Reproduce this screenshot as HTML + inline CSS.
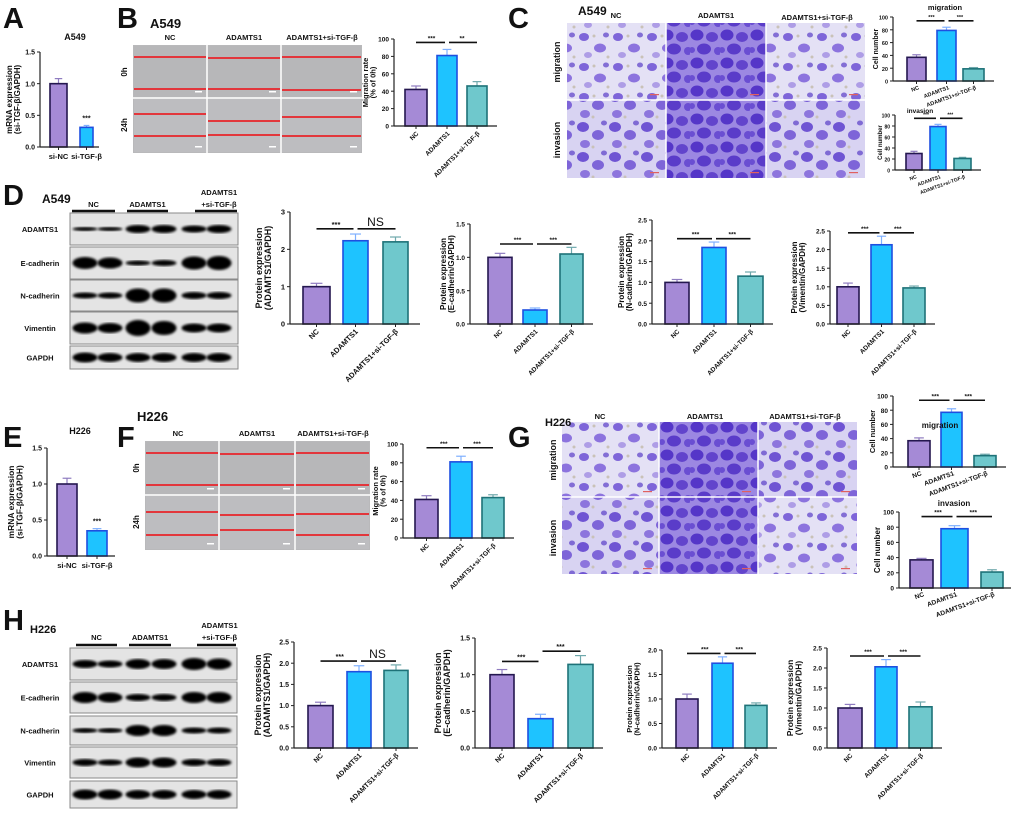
<!DOCTYPE html>
<html><head><meta charset="utf-8">
<style>
html,body{margin:0;padding:0;background:#fff;}
svg{display:block;font-family:"Liberation Sans",Arial,sans-serif;}
</style></head>
<body>
<svg id="fig" width="1020" height="821" viewBox="0 0 1020 821" xmlns="http://www.w3.org/2000/svg">
<defs>
<filter id="blur1"><feGaussianBlur stdDeviation="1.2"/></filter>
<pattern id="cellsLight" width="34" height="30" patternUnits="userSpaceOnUse">
<rect width="34" height="30" fill="#e4e1f5"/>
<ellipse cx="6" cy="7" rx="5" ry="4" fill="#6c4fd4" opacity="0.85"/>
<ellipse cx="22" cy="18" rx="6" ry="4.5" fill="#7658d8" opacity="0.8"/>
<ellipse cx="28" cy="5" rx="3" ry="2.5" fill="#5a3ec8" opacity="0.7"/>
<ellipse cx="10" cy="25" rx="4" ry="3" fill="#8a70dc" opacity="0.6"/>
<circle cx="16" cy="6" r="1.5" fill="#c9c2b8"/>
<circle cx="30" cy="27" r="1.5" fill="#c9c2b8"/>
</pattern>
<pattern id="cellsDense" width="30" height="28" patternUnits="userSpaceOnUse">
<rect width="30" height="28" fill="#9c88e2"/>
<ellipse cx="7" cy="7" rx="6.5" ry="5.5" fill="#5536c8"/>
<ellipse cx="22" cy="9" rx="6" ry="5" fill="#6244cc"/>
<ellipse cx="14" cy="21" rx="7" ry="5.5" fill="#5a3cc9"/>
<ellipse cx="28" cy="23" rx="4" ry="4" fill="#6a4ed2"/>
<ellipse cx="2" cy="22" rx="3" ry="3" fill="#6a4ed2"/>
</pattern>
<pattern id="cellsMid" width="32" height="30" patternUnits="userSpaceOnUse">
<rect width="32" height="30" fill="#d8d3f2"/>
<ellipse cx="7" cy="7" rx="6" ry="5" fill="#6446d0" opacity="0.9"/>
<ellipse cx="22" cy="15" rx="6" ry="5" fill="#6e52d4" opacity="0.85"/>
<ellipse cx="9" cy="24" rx="5" ry="4" fill="#7a5ed8" opacity="0.8"/>
<ellipse cx="28" cy="3" rx="3" ry="2.5" fill="#5a3ec8" opacity="0.7"/>
<circle cx="17" cy="27" r="1.5" fill="#c9c2b8"/>
</pattern>
</defs>
<g id="static"></g>
<g id="charts"></g>
<g id="overlay"></g>
</svg>
<script>
// ---------------- DATA ----------------
const catsSi = ["si-NC","si-TGF-β"];
const cats3 = ["NC","ADAMTS1","ADAMTS1+si-TGF-β"];

const valsA = [1.0, 0.31];   const errA = [0.08, 0.03];
const valsB = [42, 81, 46];  const errB = [4, 7, 5];
const valsCm = [37, 79, 19]; const errCm = [4, 5, 2];
const valsCi = [30, 79, 21]; const errCi = [4, 4, 2];
const valsD1 = [1.0, 2.23, 2.2];  const errD1 = [0.09, 0.18, 0.13];
const valsD2 = [1.0, 0.21, 1.05]; const errD2 = [0.06, 0.03, 0.1];
const valsD3 = [1.0, 1.84, 1.15]; const errD3 = [0.07, 0.13, 0.1];
const valsD4 = [1.0, 2.13, 0.97]; const errD4 = [0.1, 0.23, 0.05];
const valsE = [1.0, 0.35];   const errE = [0.08, 0.03];
const valsF = [41, 81, 43];  const errF = [4, 6, 3];
const valsGm = [37, 77, 16]; const errGm = [4, 5, 2];
const valsGi = [37, 78, 21]; const errGi = [2, 4, 3];
const valsH1 = [1.0, 1.8, 1.83]; const errH1 = [0.08, 0.14, 0.13];
const valsH2 = [1.0, 0.4, 1.14]; const errH2 = [0.07, 0.06, 0.12];
const valsH3 = [1.0, 1.73, 0.87]; const errH3 = [0.1, 0.13, 0.05];
const valsH4 = [1.0, 2.03, 1.03]; const errH4 = [0.09, 0.18, 0.12];

const ticks15 = [0, 0.5, 1.0, 1.5];
const ticks15Lab = ["0.0","0.5","1.0","1.5"];
const ticks100 = [0, 20, 40, 60, 80, 100];
const ticks100Lab = ["0","20","40","60","80","100"];
const ticks3 = [0, 1, 2, 3];
const ticks3Lab = ["0","1","2","3"];
const ticks25 = [0, 0.5, 1.0, 1.5, 2.0, 2.5];
const ticks25Lab = ["0.0","0.5","1.0","1.5","2.0","2.5"];
const ticks20 = [0, 0.5, 1.0, 1.5, 2.0];
const ticks20Lab = ["0.0","0.5","1.0","1.5","2.0"];

const sigStar3 = ["***","***"];
const sigB = ["***","**"];
const sigNS = ["***","NS"];
const sigLevB = [96, 96];
const sigLevC = [94, 94];
const sigLevD1 = [2.55, 2.55];
const sigLevD2 = [1.2, 1.2];
const sigLevD3 = [2.05, 2.05];
const sigLevD4 = [2.45, 2.45];
const sigLevF = [96, 96];
const sigLevH1 = [2.05, 2.05];
const sigLevH2 = [1.18, 1.32];
const sigLevH3 = [1.93, 1.93];
const sigLevH4 = [2.3, 2.3];

// ---------------- HELPERS ----------------
const NS = "http://www.w3.org/2000/svg";
const staticG = document.getElementById('static');
const chartsG = document.getElementById('charts');
const overlayG = document.getElementById('overlay');
function mk(tag, attrs, parent){
  const e = document.createElementNS(NS, tag);
  for (const k in attrs) e.setAttribute(k, attrs[k]);
  (parent||staticG).appendChild(e);
  return e;
}
function txt(x,y,s,size,parent,extra){
  const a = Object.assign({x:x,y:y,'font-size':size,'font-weight':'bold','text-anchor':'middle',fill:'#111'}, extra||{});
  const t = mk('text', a, parent); t.textContent = s; return t;
}
const fills = ["#a58ad6","#1ec3ff","#6fc8cc"];
const strokes = ["#24174f","#1f4fe0","#1e7278"];
const errCols = ["#8f7cc0","#7fb0ff","#6fa8ac"];

function barChart(c){
  const g = mk('g', {}, chartsG);
  
  
  const ymax = c.ticks[c.ticks.length-1];
  const sy = v => c.y0 - (v / ymax) * (c.y0 - c.ytop);
  const fs = c.fs || 7.5;
  c.values.forEach((v,i)=>{
    const [x0,x1] = c.bx[i];
    const cx = (x0+x1)/2;
    const top = sy(v), etop = sy(v + c.errs[i]);
    const el = mk('line',{x1:cx,x2:cx,y1:top,y2:etop,stroke:errCols[i],'stroke-width':1.2},g);
    
    
    const cap = mk('line',{x1:cx-(x1-x0)*0.22,x2:cx+(x1-x0)*0.22,y1:etop,y2:etop,stroke:errCols[i],'stroke-width':1.2},g);
    
    
    const r = mk('rect',{x:x0,y:top,width:x1-x0,height:c.y0-top,fill:fills[i],stroke:strokes[i],'stroke-width':1.6},g);
    
    
  });
  const xEnd = c.bx[c.bx.length-1][1] + (c.xpad||10);
  mk('line',{x1:c.ax,x2:c.ax,y1:c.ytop,y2:c.y0,stroke:'#222','stroke-width':1.2},g);
  mk('line',{x1:c.ax,x2:xEnd,y1:c.y0,y2:c.y0,stroke:'#222','stroke-width':1.2},g);
  c.ticks.forEach((t,i)=>{
    const y = sy(t);
    mk('line',{x1:c.ax-3,x2:c.ax,y1:y,y2:y,stroke:'#222','stroke-width':1},g);
    const tl = txt(c.ax-5,y+2.6,c.tickLab[i],fs,g,{'text-anchor':'end'});
    
    
  });
  c.bx.forEach((b,i)=>{
    const cx=(b[0]+b[1])/2;
    mk('line',{x1:cx,x2:cx,y1:c.y0,y2:c.y0+3,stroke:'#222','stroke-width':1},g);
    let t;
    if (c.rot){
      t = txt(cx+3,c.y0+8,c.cats[i],fs,g,{'text-anchor':'end',transform:`rotate(-${c.rot} ${cx+3} ${c.y0+8})`});
    } else {
      t = txt(cx,c.y0+12,c.cats[i],fs+0.5,g);
    }
    
    
  });
  if (c.ylab){
    const lx = c.lx, ly = (c.ytop+c.y0)/2;
    c.ylab.forEach((s,k)=>{
      const t = txt(lx + k*(c.lfs||9), ly, s, c.lfs||8.5, g, {transform:`rotate(-90 ${lx+k*(c.lfs||9)} ${ly})`});
      
      
    });
  }
  if (c.title){
    const t = txt(c.tx, c.ty, c.title, c.tfs||9, g);
    
    
  }
  if (c.sig){
    const centers = c.bx.map(b=>(b[0]+b[1])/2);
    c.sig.forEach((s,k)=>{
      const a = centers[k], bb = centers[k+1];
      const y = sy(c.sigLev[k]);
      const ln = mk('line',{x1:a+(k?2:0),x2:bb-(k?0:2),y1:y,y2:y,stroke:'#111','stroke-width':1.6},g);
      
      
      const t = txt((a+bb)/2, y-(s==='NS'?3:2), s, s==='NS'? 12: fs, g, s==='NS'?{'font-weight':'normal'}:{});
      
      
    });
  }
  if (c.star){
    const cx=(c.bx[1][0]+c.bx[1][1])/2;
    const t = txt(cx, sy(c.values[1]+c.errs[1])-5, c.star, fs, g);
    
    
  }
}

// ---------------- STATIC ----------------
function panelLetter(x,y,s){const t=txt(x,y,s,29,overlayG,{'text-anchor':'start'});}
function lbl(x,y,s,size,anchor,name,parent){const t=txt(x,y,s,size,parent||staticG,{'text-anchor':anchor||'middle'});return t;}
function vlbl(x,y,s,size,name){const t=txt(x,y,s,size,staticG,{transform:`rotate(-90 ${x} ${y})`});}

function scratch(x0,y0,colsX,rowY,x1,y1,redLines,name){
  const g=mk('g',{});
  
  
  mk('rect',{x:x0,y:y0,width:x1-x0,height:y1-y0,fill:'#b9b9bb'},g);
  const xs=[x0,...colsX,x1], ys=[y0,rowY,y1];
  for(let r=0;r<2;r++)for(let c=0;c<3;c++){
    mk('rect',{x:xs[c]+1,y:ys[r]+1,width:xs[c+1]-xs[c]-2,height:ys[r+1]-ys[r]-2,fill:(r?'#bdbdc0':'#b7b7b9')},g);
    const rl = redLines[r*3+c];
    rl.forEach(yy=>mk('line',{x1:xs[c]+1,x2:xs[c+1]-1,y1:yy,y2:yy,stroke:'#e8242a','stroke-width':1.8},g));
    mk('rect',{x:xs[c+1]-12,y:ys[r+1]-7,width:7,height:1.5,fill:'#fff'},g);
  }
  colsX.forEach(cx=>mk('line',{x1:cx,x2:cx,y1:y0,y2:y1,stroke:'#fff','stroke-width':1.5},g));
  mk('line',{x1:x0,x2:x1,y1:rowY,y2:rowY,stroke:'#fff','stroke-width':1.5},g);
}
scratch(133,45,[207,281],98,362,153,[[57,89],[58,89],[57,90],[114,136],[121,135],[117,136]],'scratch-images-a549');
lbl(170,40,'NC',7.5,'middle','column-label'); lbl(244,40,'ADAMTS1',7.5,'middle','column-label'); lbl(322,40,'ADAMTS1+si-TGF-β',7.5,'middle','column-label');
vlbl(127,72,'0h',8); vlbl(127,125,'24h',8);
scratch(145,441,[219,295],495,370,550,[[453,485],[454,485],[453,485],[512,535],[515,530],[514,535]],'scratch-images-h226');
lbl(178,436,'NC',7.5,'middle','column-label'); lbl(257,436,'ADAMTS1',7.5,'middle','column-label'); lbl(333,436,'ADAMTS1+si-TGF-β',7.5,'middle','column-label');
vlbl(139,468,'0h',8); vlbl(139,522,'24h',8);

function transwell(x0,y0,colsX,rowY,x1,y1,fillsArr,name){
  const g=mk('g',{});
  
  
  const xs=[x0,...colsX,x1], ys=[y0,rowY,y1];
  for(let r=0;r<2;r++)for(let c=0;c<3;c++){
    mk('rect',{x:xs[c],y:ys[r],width:xs[c+1]-xs[c],height:ys[r+1]-ys[r],fill:`url(#${fillsArr[r*3+c]})`},g);
    mk('rect',{x:xs[c+1]-16,y:ys[r+1]-6,width:9,height:1.2,fill:'#e06060'},g);
  }
  colsX.forEach(cx=>mk('line',{x1:cx,x2:cx,y1:y0,y2:y1,stroke:'#fff','stroke-width':1.5},g));
  mk('line',{x1:x0,x2:x1,y1:rowY,y2:rowY,stroke:'#fff','stroke-width':1.5},g);
}
transwell(567,23,[666,766],100,865,178,['cellsLight','cellsDense','cellsLight','cellsMid','cellsDense','cellsMid'],'transwell-images-a549');
lbl(616,18,'NC',7.5,'middle','column-label'); lbl(716,18,'ADAMTS1',7.5,'middle','column-label'); lbl(817,20,'ADAMTS1+si-TGF-β',7.5,'middle','column-label');
vlbl(560,62,'migration',9); vlbl(560,140,'invasion',9);
transwell(562,422,[659,758],497,857,574,['cellsLight','cellsDense','cellsMid','cellsMid','cellsDense','cellsLight'],'transwell-images-h226');
lbl(600,419,'NC',7.5,'middle','column-label'); lbl(705,419,'ADAMTS1',7.5,'middle','column-label'); lbl(805,419,'ADAMTS1+si-TGF-β',7.5,'middle','column-label');
vlbl(556,460,'migration',9); vlbl(556,538,'invasion',9);

const laneX=[85,110,138,164,194,219];
function blot(x0,x1,rows,groups,lineY,labelY,names,bandSpec,name){
  const g=mk('g',{});
  
  
  groups.forEach(gr=>{
    mk('line',{x1:gr[0],x2:gr[1],y1:lineY,y2:lineY,stroke:'#111','stroke-width':2.5},g);
  });
  lbl((groups[0][0]+groups[0][1])/2,labelY,'NC',7.5,'middle','lane-group-label',g);
  lbl((groups[1][0]+groups[1][1])/2,labelY,'ADAMTS1',7.5,'middle','lane-group-label',g);
  lbl((groups[2][0]+groups[2][1])/2+3,labelY-12,'ADAMTS1',7.5,'middle','lane-group-label',g);
  lbl((groups[2][0]+groups[2][1])/2+3,labelY,'+si-TGF-β',7.5,'middle','lane-group-label',g);
  rows.forEach((r,i)=>{
    mk('rect',{x:x0,y:r[0],width:x1-x0,height:r[1]-r[0],fill:'#e4e4e4',stroke:'#8a8a8a','stroke-width':1},g);
    const cy=(r[0]+r[1])/2;
    bandSpec[i].forEach((h,k)=>{
      mk('ellipse',{cx:laneX[k],cy:cy,rx:12.5,ry:h,fill:'#000',filter:'url(#blur1)'},g);
    });
    const t=txt(40,cy+3,names[i],7.5,g);
    
    
  });
}
const protNames=['ADAMTS1','E-cadherin','N-cadherin','Vimentin','GAPDH'];
blot(70,238,[[213,245],[247,279],[280,311],[312,344],[346,369]],[[72,115],[127,168],[195,237]],211,207,protNames,
 [[2,2,4,4,3.5,4],[6,5.5,2.5,3,6.5,7],[3,3,7,7,3.5,3.5],[5.5,5,8,7,4.5,4.5],[5,4.5,4.5,4.5,4.5,4.5]],'western-blot-a549');
blot(70,237,[[648,680],[682,713],[716,745],[747,778],[781,808]],[[76,117],[129,171],[197,236]],645,640,protNames,
 [[4,3.5,5,5,6,5.5],[5.5,5,3.5,3.5,5.5,5.5],[2.5,2.5,5.5,5.5,3,3],[3.5,3,5,5,3.5,3.5],[5,5,4.5,4.5,4.5,4.5]],'western-blot-h226');

// cell-line labels drawn on top
lbl(150,28,'A549',13,'start','cell-line-label',overlayG);
lbl(578,15,'A549',12,'start','cell-line-label',overlayG);
lbl(42,203,'A549',12,'start','cell-line-label',overlayG);
lbl(137,421,'H226',13,'start','cell-line-label',overlayG);
lbl(545,426,'H226',11,'start','cell-line-label',overlayG);
lbl(30,633,'H226',11,'start','cell-line-label',overlayG);
panelLetter(3,28,'A'); panelLetter(117,28,'B'); panelLetter(508,28,'C');
panelLetter(3,205,'D'); panelLetter(3,447,'E'); panelLetter(117,447,'F');
panelLetter(508,447,'G'); panelLetter(3,630,'H');

// ---------------- CHARTS ----------------
barChart({name:'chart-a-mrna',cats:catsSi,values:valsA,errs:errA,ticks:ticks15,tickLab:ticks15Lab,ax:40,y0:147,ytop:52,bx:[[50,67],[80,93]],ylab:['mRNA expression','(si-TGF-β/GAPDH)'],lx:12,lfs:8,title:'A549',tx:75,ty:40,star:'***',xpad:6,fs:7});
barChart({name:'chart-b-migration-rate',cats:cats3,values:valsB,errs:errB,ticks:ticks100,tickLab:ticks100Lab,ax:394,y0:126,ytop:39,bx:[[405,427],[437,457],[467,487]],ylab:['Migration rate','(% of 0h)'],lx:368,lfs:7.5,sig:sigB,sigLev:sigLevB,rot:45,fs:6.5});
barChart({name:'chart-c-migration',cats:cats3,values:valsCm,errs:errCm,ticks:ticks100,tickLab:ticks100Lab,ax:893,y0:81,ytop:17,bx:[[907,926],[937,956],[963,984]],ylab:['Cell number'],lx:878,lfs:7,sig:sigStar3,sigLev:sigLevC,rot:20,fs:5.5,title:'migration',tx:945,ty:10,tfs:7.5});
barChart({name:'chart-c-invasion',cats:cats3,values:valsCi,errs:errCi,ticks:ticks100,tickLab:ticks100Lab,ax:895,y0:170,ytop:115,bx:[[906,922],[930,946],[954,971]],ylab:['Cell number'],lx:882,lfs:6,sig:sigStar3,sigLev:sigLevC,rot:20,fs:5,title:'invasion',tx:920,ty:113,tfs:6.5});
barChart({name:'chart-d-adamts1',cats:cats3,values:valsD1,errs:errD1,ticks:ticks3,tickLab:ticks3Lab,ax:290,y0:324,ytop:212,bx:[[303,330],[343,368],[383,408]],ylab:['Protein expression','(ADAMTS1/GAPDH)'],lx:262,lfs:9,sig:sigNS,sigLev:sigLevD1,rot:45,fs:7.5,xpad:12});
barChart({name:'chart-d-ecadherin',cats:cats3,values:valsD2,errs:errD2,ticks:ticks15,tickLab:ticks15Lab,ax:470,y0:324,ytop:224,bx:[[488,512],[523,547],[560,583]],ylab:['Protein expression','(E-cadherin/GAPDH)'],lx:446,lfs:8,sig:sigStar3,sigLev:sigLevD2,rot:45,fs:6.5});
barChart({name:'chart-d-ncadherin',cats:cats3,values:valsD3,errs:errD3,ticks:ticks25,tickLab:ticks25Lab,ax:652,y0:324,ytop:220,bx:[[665,689],[702,726],[738,763]],ylab:['Protein expression','(N-cadherin/GAPDH)'],lx:624,lfs:8,sig:sigStar3,sigLev:sigLevD3,rot:45,fs:6.5});
barChart({name:'chart-d-vimentin',cats:cats3,values:valsD4,errs:errD4,ticks:ticks25,tickLab:ticks25Lab,ax:830,y0:324,ytop:231,bx:[[837,859],[871,892],[903,925]],ylab:['Protein expression','(Vimentin/GAPDH)'],lx:797,lfs:8,sig:sigStar3,sigLev:sigLevD4,rot:45,fs:6.5});
barChart({name:'chart-e-mrna',cats:catsSi,values:valsE,errs:errE,ticks:ticks15,tickLab:ticks15Lab,ax:47,y0:556,ytop:448,bx:[[57,77],[87,107]],ylab:['mRNA expression','(si-TGF-β/GAPDH)'],lx:14,lfs:8.5,title:'H226',tx:80,ty:434,star:'***',xpad:8,fs:7});
barChart({name:'chart-f-migration-rate',cats:cats3,values:valsF,errs:errF,ticks:ticks100,tickLab:ticks100Lab,ax:403,y0:538,ytop:444,bx:[[415,438],[450,472],[482,504]],ylab:['Migration rate','(% of 0h)'],lx:378,lfs:7.5,sig:sigStar3,sigLev:sigLevF,rot:45,fs:6.5});
barChart({name:'chart-g-migration',cats:cats3,values:valsGm,errs:errGm,ticks:ticks100,tickLab:ticks100Lab,ax:893,y0:467,ytop:396,bx:[[908,930],[941,962],[974,996]],ylab:['Cell number'],lx:875,lfs:7.5,sig:sigStar3,sigLev:sigLevC,rot:20,fs:6.5,title:'migration',tx:940,ty:428,tfs:8});
barChart({name:'chart-g-invasion',cats:cats3,values:valsGi,errs:errGi,ticks:ticks100,tickLab:ticks100Lab,ax:899,y0:588,ytop:512,bx:[[910,933],[941,968],[981,1003]],ylab:['Cell number'],lx:880,lfs:8,sig:sigStar3,sigLev:sigLevC,rot:20,fs:6.5,title:'invasion',tx:954,ty:506,tfs:8,xpad:8});
barChart({name:'chart-h-adamts1',cats:cats3,values:valsH1,errs:errH1,ticks:ticks25,tickLab:ticks25Lab,ax:294,y0:748,ytop:642,bx:[[308,333],[347,371],[384,408]],ylab:['Protein expression','(ADAMTS1/GAPDH)'],lx:261,lfs:9,sig:sigNS,sigLev:sigLevH1,rot:45,fs:7});
barChart({name:'chart-h-ecadherin',cats:cats3,values:valsH2,errs:errH2,ticks:ticks15,tickLab:ticks15Lab,ax:475,y0:748,ytop:638,bx:[[490,514],[528,553],[568,593]],ylab:['Protein expression','(E-cadherin/GAPDH)'],lx:441,lfs:9,sig:sigStar3,sigLev:sigLevH2,rot:45,fs:7});
barChart({name:'chart-h-ncadherin',cats:cats3,values:valsH3,errs:errH3,ticks:ticks20,tickLab:ticks20Lab,ax:662,y0:748,ytop:650,bx:[[676,698],[712,733],[745,767]],ylab:['Protein expression','(N-cadherin/GAPDH)'],lx:632,lfs:7.5,sig:sigStar3,sigLev:sigLevH3,rot:45,fs:6.5});
barChart({name:'chart-h-vimentin',cats:cats3,values:valsH4,errs:errH4,ticks:ticks25,tickLab:ticks25Lab,ax:827,y0:748,ytop:648,bx:[[838,862],[875,897],[909,932]],ylab:['Protein expression','(Vimentin/GAPDH)'],lx:793,lfs:8.5,sig:sigStar3,sigLev:sigLevH4,rot:45,fs:6.5});
</script>
</body></html>
